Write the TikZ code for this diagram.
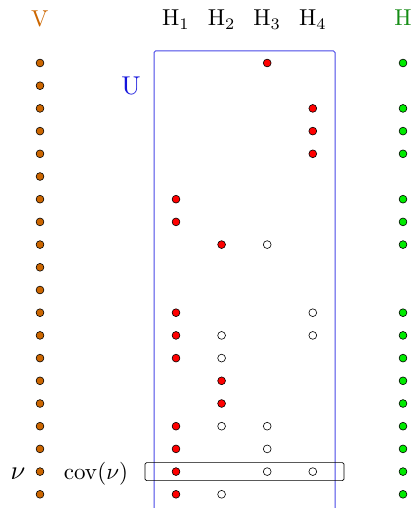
\documentclass[tikz,border=0pt]{standalone}
\definecolor{vorange}{RGB}{204,102,0}
\definecolor{hgreen}{RGB}{0,235,0}
\definecolor{hlabel}{RGB}{20,140,20}
\definecolor{ublue}{RGB}{70,70,230}
\definecolor{ulabel}{RGB}{20,20,220}
\begin{document}
\begin{tikzpicture}[x=1pt,y=-1pt,
  dot/.style={circle,draw=black,line width=0.6pt,inner sep=0pt,minimum size=7.8pt},
  vdot/.style={dot,fill=vorange},
  gdot/.style={dot,fill=hgreen},
  rdot/.style={dot,fill=red},
  wdot/.style={dot,fill=white},
  lab/.style={font=\normalsize,scale=2.3,inner sep=0pt,anchor=base}]
\useasboundingbox (0,0) rectangle (412,508);
\clip (0,0) rectangle (412,508);
\def\rowy#1{63+(#1-1)*22.7}
\def\colx#1{176+(#1-1)*45.6}
% labels
\node[lab,text=vorange] (lV) at (40,27) {$\mathrm{V}$};
\foreach \j in {1,...,4}{\node[lab] (lH\j) at ({\colx{\j}},26) {$\mathrm{H}_{\j}$};}
\node[lab,text=hlabel] (lH) at (403,26) {$\mathrm{H}$};
\node[lab,text=ulabel,anchor=center,scale=1.12] (lU) at (131,86) {$\mathrm{U}$};
% blue box
\draw[ublue,line width=1pt,rounded corners=1.5pt] (154,51) rectangle (335,530);
% cov box
\node[draw=black,line width=0.7pt,rounded corners=1.5pt,minimum width=199pt,minimum height=18pt,inner sep=0pt] (covbox) at (244.5,{\rowy{19}}) {};
% V column
\foreach \i in {1,...,20}{\node[vdot] (v\i) at (40,{\rowy{\i}}) {};}
% H column
\foreach \i in {1,3,4,5,7,8,9,12,13,14,15,16,17,18,19,20}{\node[gdot] (g\i) at (403,{\rowy{\i}}) {};}
% red dots: row/col
\foreach \i/\j in {1/3,3/4,4/4,5/4,7/1,8/1,9/2,12/1,13/1,14/1,15/2,16/2,17/1,18/1,19/1,20/1}{
  \node[rdot] (r\i-\j) at ({\colx{\j}},{\rowy{\i}}) {};}
% white dots
\foreach \i/\j in {9/3,12/4,13/2,13/4,14/2,17/2,17/3,18/3,19/3,19/4,20/2}{
  \node[wdot] (w\i-\j) at ({\colx{\j}},{\rowy{\i}}) {};}
% v labels
\node[lab,scale=1.15] (lnu) at (18,479) {$\nu$};
\node[lab] (lcov) at (96,479) {$\mathrm{cov}(\nu)$};
\end{tikzpicture}
\end{document}
